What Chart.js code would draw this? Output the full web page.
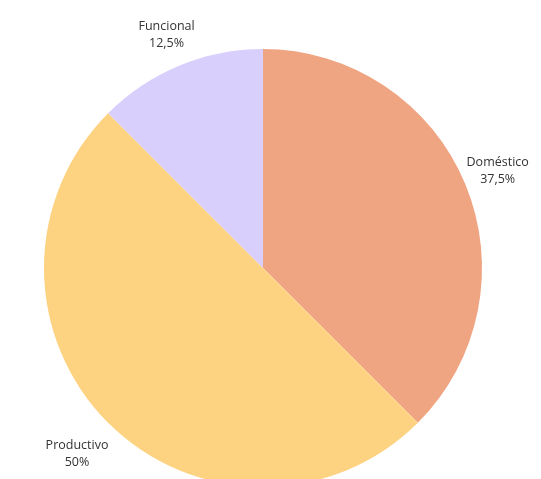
<!DOCTYPE html>
<html>
<head>
<meta charset="utf-8">
<script src="https://cdn.jsdelivr.net/npm/chart.js@4/dist/chart.umd.min.js"></script>
<style>
  html, body { margin: 0; padding: 0; background: #fff; overflow: hidden; }
  #wrap { position: relative; width: 541px; height: 536px; }
</style>
</head>
<body>
<div id="wrap"><canvas id="myChart"></canvas></div>
<script>
const labels = ["Doméstico", "Productivo", "Funcional"];
const percentLabels = ["37,5%", "50%", "12,5%"];
const values = [37.5, 50, 12.5];
const colors = ["#F0A582", "#FDD280", "#D9CFFC"];

// distance of each label beyond the rim, roughly as in the original
const labelGap = [35, 44, 33];

const outsideLabels = {
  id: "outsideLabels",
  afterDatasetsDraw(chart) {
    const ctx = chart.ctx;
    const meta = chart.getDatasetMeta(0);
    ctx.save();
    ctx.font = "12.5px 'Open Sans', sans-serif";
    ctx.fillStyle = "#333333";
    ctx.textAlign = "center";
    ctx.textBaseline = "middle";
    meta.data.forEach((arc, i) => {
      const mid = (arc.startAngle + arc.endAngle) / 2;
      const d = arc.outerRadius + labelGap[i];
      const x = arc.x + Math.cos(mid) * d;
      const y = arc.y + Math.sin(mid) * d;
      ctx.fillText(labels[i], x, y - 8.5);
      ctx.fillText(percentLabels[i], x, y + 8.5);
    });
    ctx.restore();
  },
};

const config = {
  type: "pie",
  data: {
    labels,
    datasets: [
      {
        data: values,
        backgroundColor: colors,
        borderWidth: 0,
      },
    ],
  },
  options: {
    responsive: true,
    maintainAspectRatio: false,
    animation: false,
    layout: { padding: { top: 49, bottom: 49, left: 0, right: 15 } },
    plugins: {
      legend: { display: false },
      tooltip: { enabled: false },
    },
  },
  plugins: [outsideLabels],
};

const myChart = new Chart(document.getElementById("myChart"), config);
</script>
</body>
</html>
